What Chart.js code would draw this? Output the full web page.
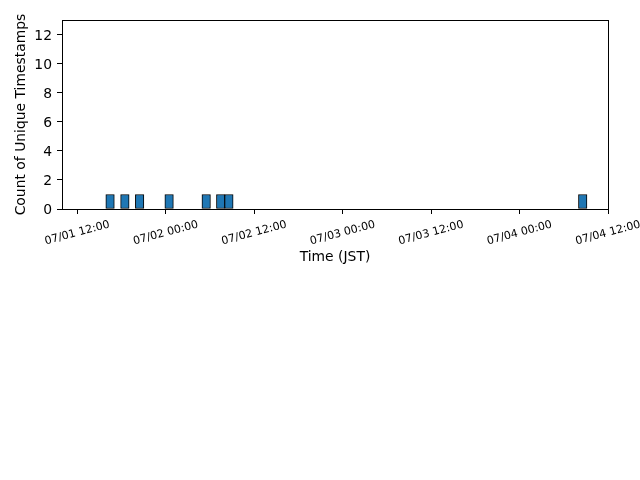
<!DOCTYPE html>
<html>
<head>
<meta charset="utf-8">
<script src="https://cdn.jsdelivr.net/npm/chart.js@4/dist/chart.umd.min.js"></script>
<style>
    html, body { margin: 0; padding: 0; background: #fff; }
    #wrap { width: 640px; height: 480px; }
</style>
</head>
<body>
<div id="wrap"><canvas id="hist-chart"></canvas></div>
<script>
// hours after 07/01 12:00 JST (bin centres)
const binCenters = [4.45, 6.46, 8.46, 12.46, 17.49, 19.46, 20.57, 68.57];
const binCounts = [1, 1, 1, 1, 1, 1, 1, 1];

const xTickValues = [0, 12, 24, 36, 48, 60, 72];
const xTickLabels = ['07/01 12:00', '07/02 00:00', '07/02 12:00', '07/03 00:00',
    '07/03 12:00', '07/04 00:00', '07/04 12:00'];
const yTickValues = [0, 2, 4, 6, 8, 10, 12];

const fontFamily = "'DejaVu Sans', sans-serif";

// matplotlib style: rotated, centred tick labels + full frame
const framePlugin = {
    id: 'frame',
    afterDraw(chart) {
        const { ctx, chartArea } = chart;
        const xs = chart.scales.x;
        ctx.save();
        ctx.strokeStyle = '#000';
        ctx.lineWidth = 1;
        ctx.strokeRect(chartArea.left + 0.5, chartArea.top + 0.5,
            chartArea.right - chartArea.left, chartArea.bottom - chartArea.top);

        ctx.fillStyle = '#000';
        ctx.font = `11px ${fontFamily}`;
        ctx.textAlign = 'center';
        ctx.textBaseline = 'middle';
        xTickValues.forEach((v, i) => {
            const px = xs.getPixelForValue(v);
            ctx.save();
            ctx.translate(px, chartArea.bottom + 24);
            ctx.rotate(-15 * Math.PI / 180);
            ctx.fillText(xTickLabels[i], 0, 0);
            ctx.restore();
        });
        ctx.restore();
    }
};

new Chart(document.getElementById('hist-chart'), {
    type: 'bar',
    data: {
        datasets: [{
            label: 'count',
            data: binCenters.map((x, i) => ({ x, y: binCounts[i] })),
            backgroundColor: '#1f77b4',
            borderColor: '#000',
            borderWidth: 1,
            borderSkipped: false,
            barThickness: 8.5
        }]
    },
    options: {
        responsive: true,
        maintainAspectRatio: false,
        animation: false,
        layout: {
            padding: { top: 20, right: 32, bottom: 210, left: 0 }
        },
        plugins: {
            legend: { display: false },
            tooltip: { enabled: false }
        },
        scales: {
            x: {
                type: 'linear',
                min: -2.07,
                max: 72,
                offset: false,
                afterBuildTicks: (scale) => {
                    scale.ticks = xTickValues.map(v => ({ value: v }));
                },
                afterFit: (scale) => { scale.height = 61; },
                ticks: { display: false },
                grid: {
                    offset: false,
                    drawOnChartArea: false,
                    drawTicks: true,
                    tickLength: 5,
                    color: '#000'
                },
                border: { display: true, color: '#000', width: 1 },
                title: {
                    display: true,
                    text: 'Time (JST)',
                    color: '#000',
                    font: { family: fontFamily, size: 13.9 },
                    padding: { top: 0, bottom: 4 }
                }
            },
            y: {
                min: 0,
                max: 13,
                afterBuildTicks: (scale) => {
                    scale.ticks = yTickValues.map(v => ({ value: v }));
                },
                afterFit: (scale) => { scale.width = 62; },
                ticks: {
                    color: '#000',
                    padding: 5,
                    labelOffset: 1.5,
                    font: { family: fontFamily, size: 13.9 }
                },
                grid: {
                    drawOnChartArea: false,
                    drawTicks: true,
                    tickLength: 5,
                    color: '#000'
                },
                border: { display: true, color: '#000', width: 1 },
                title: {
                    display: true,
                    text: 'Count of Unique Timestamps',
                    color: '#000',
                    font: { family: fontFamily, size: 13.9 },
                    padding: { top: 13, bottom: 0 }
                }
            }
        }
    },
    plugins: [framePlugin]
});
</script>
</body>
</html>
